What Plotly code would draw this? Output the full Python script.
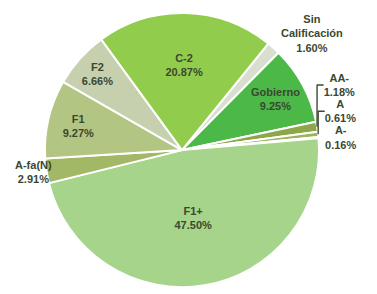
import plotly.graph_objects as go

labels = ["Sin Calificación", "Gobierno", "AA-", "A", "A-", "F1+", "A-fa(N)", "F1", "F2", "C-2"]
values = [1.60, 9.25, 1.18, 0.61, 0.16, 47.50, 2.91, 9.27, 6.66, 20.87]
colors = ["#d8dfd0", "#4cb847", "#8ea64a", "#9ab45a", "#b8cf8a",
          "#a6d48a", "#a3b867", "#b3c583", "#c6d0ae", "#92cc4c"]
positions = ["none", "inside", "outside", "outside", "outside",
             "inside", "none", "inside", "inside", "inside"]

text_color = "#3a4830"
font_family = "Liberation Sans, Arial"

fig = go.Figure(go.Pie(
    labels=labels,
    values=values,
    sort=False,
    direction="clockwise",
    rotation=39,
    marker=dict(colors=colors, line=dict(color="white", width=2)),
    texttemplate="<b>%{label}</b><br><b>%{value:.2f}%</b>",
    textposition=positions,
    insidetextorientation="horizontal",
    textfont=dict(family=font_family, size=11, color=text_color),
    domain=dict(x=[0.0942, 0.8289], y=[0.051, 0.993]),
    showlegend=False,
    hoverinfo="label+value",
))

# labels placed as free text, like in the reference
i = labels.index("A-fa(N)")
fig.add_annotation(
    x=0.068, y=0.448, xref="paper", yref="paper",
    xanchor="center", yanchor="middle",
    text=f"<b>{labels[i]}</b><br><b>{values[i]:.2f}%</b>",
    showarrow=False,
    font=dict(family=font_family, size=11, color=text_color),
)
j = labels.index("Sin Calificación")
fig.add_annotation(
    x=0.806, y=0.922, xref="paper", yref="paper",
    xanchor="center", yanchor="middle",
    text="<br>".join(f"<b>{w}</b>" for w in labels[j].split(" ")) + f"<br><b>{values[j]:.2f}%</b>",
    showarrow=False,
    font=dict(family=font_family, size=11, color=text_color),
)

fig.update_layout(
    width=377, height=294,
    margin=dict(l=0, r=0, t=0, b=0),
    paper_bgcolor="white",
    plot_bgcolor="white",
)

fig.write_html("out.html")
